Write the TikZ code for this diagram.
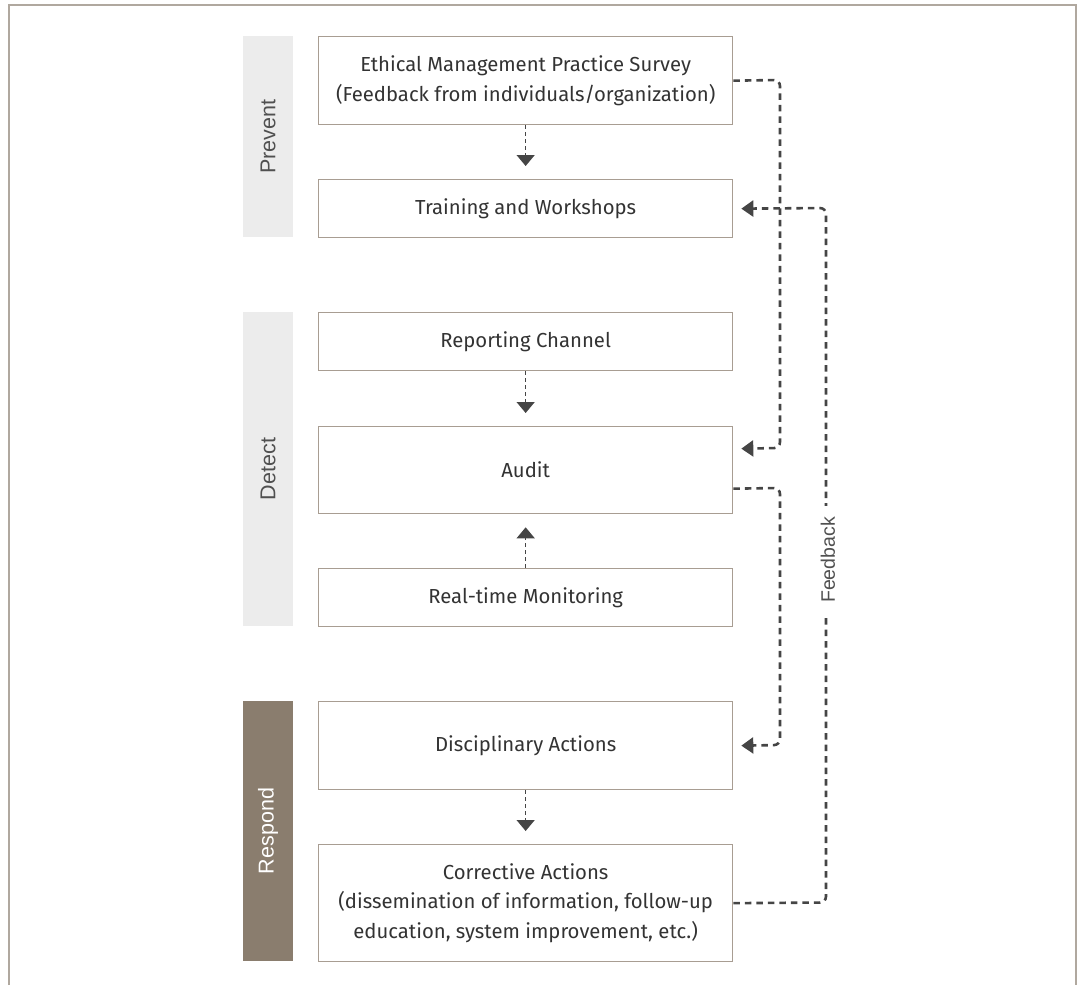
\documentclass[tikz,border=0pt]{standalone}
\usepackage{fontspec}
\setmainfont{Fira Sans}
\newfontfamily\sidefont{Liberation Sans}
\usetikzlibrary{arrows.meta,calc}
\definecolor{boxline}{HTML}{A89D92}
\definecolor{bandlight}{HTML}{ECECEC}
\definecolor{banddark}{HTML}{8A7D6E}
\definecolor{ink}{HTML}{333333}
\definecolor{sideink}{HTML}{505050}
\definecolor{flow}{HTML}{454545}
\definecolor{framecol}{HTML}{B0A89F}

\begin{document}
\begin{tikzpicture}[x=1pt,y=-1pt,
  stepbox/.style={draw=boxline, line width=1.3pt, fill=white, minimum width=414pt,
    text=ink, font=\fontsize{20.3}{29.5}\selectfont, align=center, inner sep=0pt, anchor=north west},
  band/.style={rotate=90, minimum height=50pt, inner sep=0pt,
    font=\sidefont\fontsize{21.5}{24}\selectfont},
  vflow/.style={draw=flow, line width=1.4pt, dash pattern=on 4pt off 3pt,
    -{Triangle[length=11pt,width=18pt]}, shorten >=13pt},
  fb/.style={draw=flow, line width=2.6pt, dash pattern=on 6.5pt off 5pt, rounded corners=6pt,
    -{Triangle[length=12pt,width=16pt]}},
]
\useasboundingbox (0,0) rectangle (1083,985);

% outer frame, open at the bottom
\draw[framecol, line width=1.3pt] (9,985) -- (9,5) -- (1076,5) -- (1076,985);

% phase bands
\node[band, fill=bandlight, text=sideink, minimum width=201pt] (prevent) at (268,136.5) {Prevent};
\node[band, fill=bandlight, text=sideink, minimum width=314pt] (detect) at (268,469) {Detect};
\node[band, fill=banddark, text=white, minimum width=260pt] (respond) at (268,831) {Respond};

% process boxes
\node[stepbox, minimum height=88pt] (survey) at (318,36)
  {Ethical Management Practice Survey\\(Feedback from individuals/organization)};
\node[stepbox, minimum height=58pt] (training) at (318,179) {Training and Workshops};
\node[stepbox, minimum height=58pt] (reporting) at (318,312) {Reporting Channel};
\node[stepbox, minimum height=87pt] (audit) at (318,426) {Audit};
\node[stepbox, minimum height=58pt] (monitor) at (318,568) {Real-time Monitoring};
\node[stepbox, minimum height=88pt] (discipline) at (318,701) {Disciplinary Actions};
\node[stepbox, minimum height=117pt] (corrective) at (318,844)
  {Corrective Actions\\(dissemination of information, follow-up\\education, system improvement, etc.)};

% flow between boxes
\draw[vflow] (survey.south) -- (training.north);
\draw[vflow] (reporting.south) -- (audit.north);
\draw[vflow] (monitor.north) -- (audit.south);
\draw[vflow] (discipline.south) -- (corrective.north);

% feedback loops on the right
\coordinate (auditin) at ($(audit.east)+(8,-21.5)$);
\coordinate (auditout) at ($(audit.east)+(0,18.5)$);
\draw[fb] (corrective.east) -- (826,902.5) -- (826,208) -- ($(training.east)+(8,0)$);
\draw[fb] (survey.east) -- (780,80) -- (780,448) -- (auditin);
\draw[fb] (auditout) -- (780,488) -- (780,745) -- ($(discipline.east)+(8,0)$);

% feedback label breaking the long return line
\node[rotate=90, fill=white, inner xsep=11pt, inner ysep=3pt, text=sideink,
  font=\sidefont\fontsize{19.5}{22}\selectfont] (fblabel) at (828,560) {Feedback};
\end{tikzpicture}
\end{document}
